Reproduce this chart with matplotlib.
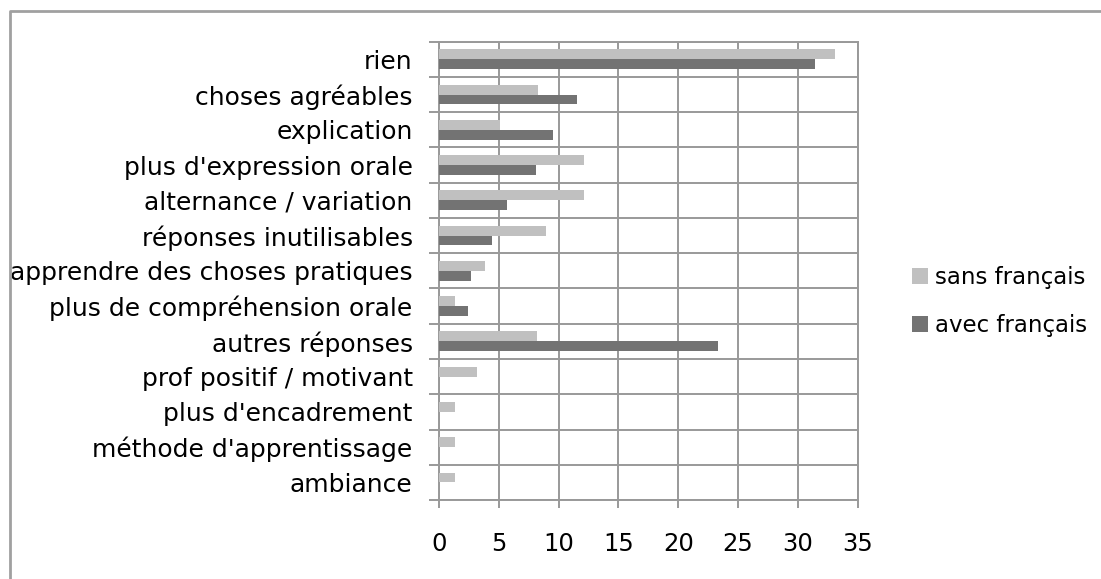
import matplotlib
matplotlib.use('Agg')
import matplotlib.pyplot as plt
from matplotlib.lines import Line2D
import numpy as np

# Réponses (en %) par catégorie
categories = ["rien", "choses agréables", "explication", "plus d'expression orale",
              "alternance / variation", "réponses inutilisables",
              "apprendre des choses pratiques", "plus de compréhension orale",
              "autres réponses", "prof positif / motivant", "plus d'encadrement",
              "méthode d'apprentissage", "ambiance"]
sans_francais = [33.1, 8.3, 5.1, 12.1, 12.1, 8.9, 3.8, 1.3, 8.2, 3.2, 1.3, 1.3, 1.3]
avec_francais = [31.4, 11.5, 9.5, 8.1, 5.7, 4.4, 2.7, 2.4, 23.3, 0, 0, 0, 0]
x_ticks = [0, 5, 10, 15, 20, 25, 30, 35]

light = '#c0c0c0'
dark = '#737373'
grid_c = '#999999'

plt.rcParams['font.family'] = 'DejaVu Sans'

fig = plt.figure(figsize=(11.01, 5.79), dpi=100)
ax = fig.add_axes([0.3988, 0.1364, 0.3802, 0.7916])

y = np.arange(len(categories))
h = 0.28
ax.barh(y - h / 2, sans_francais, height=h, color=light, label='sans français', zorder=3)
ax.barh(y + h / 2, avec_francais, height=h, color=dark, label='avec français', zorder=3)

ax.set_xlim(0, 35)
ax.set_ylim(len(categories) - 0.5, -0.5)
ax.set_xticks(x_ticks)
ax.set_yticks(y)
ax.set_yticklabels(categories)
ax.set_yticks(np.arange(len(categories) + 1) - 0.5, minor=True)

ax.tick_params(axis='y', which='major', length=0, pad=19, labelsize=18)
ax.tick_params(axis='y', which='minor', length=7, width=1.4, color=grid_c)
ax.tick_params(axis='x', length=6, width=1.4, color=grid_c, pad=17, labelsize=17.5)

ax.grid(axis='x', color=grid_c, linewidth=1.4, zorder=0)
ax.grid(axis='y', which='minor', color=grid_c, linewidth=1.4, zorder=0)
for s in ax.spines.values():
    s.set_color(grid_c)
    s.set_linewidth(1.4)

ax.legend(loc='center left', bbox_to_anchor=(1.08, 0.433), frameon=False,
          fontsize=16.5, handlelength=0.7, handleheight=0.7, handletextpad=0.3,
          labelspacing=1.1)

# cadre du graphique (bords haut et gauche)
fig.add_artist(Line2D([10 / 1101, 10 / 1101, 1], [0, 1 - 11 / 579, 1 - 11 / 579],
                      transform=fig.transFigure, color='#a0a0a0', linewidth=2))

fig.savefig('out.png', dpi=100)
